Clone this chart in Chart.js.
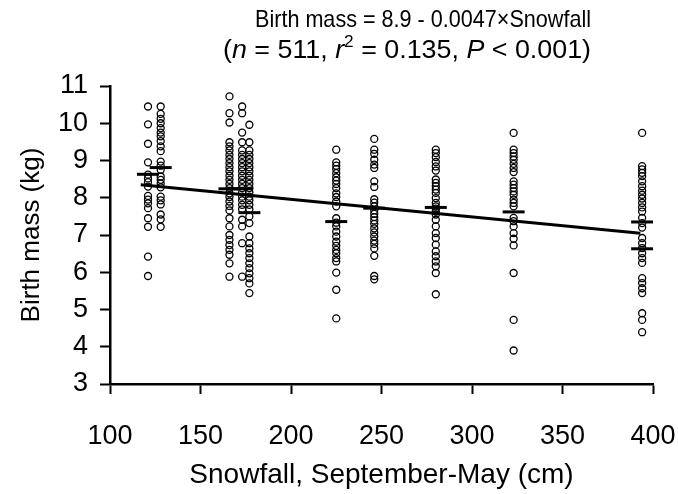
<!DOCTYPE html>
<html>
<head>
<meta charset="utf-8">
<script src="https://cdn.jsdelivr.net/npm/chart.js@4.4.1/dist/chart.umd.min.js"></script>
<style>
  html, body { margin: 0; padding: 0; background: #ffffff; }
  #wrap { width: 678px; height: 494px; position: relative; }
</style>
</head>
<body>
<div id="wrap"><canvas id="chart"></canvas></div>
<script>
// Snowfall (cm) of each group of births
const snowfallGroups = [121, 128, 166, 173, 177, 225, 246, 280, 323, 394];

// Birth mass (kg) of each calf, per snowfall group
const mass121 = [10.45, 9.97, 9.45, 8.95, 8.62, 8.52, 8.42, 8.30, 8.05, 7.95, 7.85, 7.72, 7.45, 7.22, 6.42, 5.90];
const mass128 = [10.45, 10.25, 10.12, 10.0, 9.87, 9.75, 9.65, 9.52, 9.38, 9.25, 8.97, 8.86, 8.75, 8.57, 8.48, 8.38, 8.28, 8.03, 7.93, 7.82, 7.55, 7.42, 7.22];
const mass166 = [10.72, 10.27, 10.02, 9.49, 9.38, 9.27, 9.15, 9.04, 8.93, 8.82, 8.71, 8.59, 8.48, 8.37, 8.26, 8.12, 8.02, 7.90, 7.78, 7.66, 7.45, 7.23, 7.00, 6.87, 6.73, 6.60, 6.47, 6.24, 5.88];
const mass173 = [10.45, 10.27, 9.75, 9.49, 9.27, 9.15, 9.04, 8.93, 8.82, 8.71, 8.59, 8.48, 8.37, 8.26, 8.14, 8.03, 7.93, 7.81, 7.69, 7.41, 7.23, 6.78, 5.88];
const mass177 = [9.96, 9.49, 9.27, 9.15, 9.04, 8.93, 8.82, 8.71, 8.59, 8.48, 8.37, 8.26, 8.14, 8.03, 7.93, 7.81, 7.69, 7.50, 7.32, 6.96, 6.78, 6.64, 6.51, 6.38, 6.24, 6.11, 5.97, 5.84, 5.70, 5.44];
const mass225 = [9.29, 8.95, 8.86, 8.77, 8.66, 8.55, 8.46, 8.37, 8.26, 8.12, 8.02, 7.90, 7.77, 7.45, 7.33, 7.23, 7.09, 6.96, 6.82, 6.71, 6.60, 6.51, 6.38, 6.29, 5.99, 5.53, 4.76];
const mass246 = [9.58, 9.29, 9.18, 9.02, 8.89, 8.80, 8.44, 8.29, 7.96, 7.87, 7.77, 7.66, 7.57, 7.48, 7.39, 7.30, 7.18, 7.07, 6.96, 6.85, 6.76, 6.64, 6.44, 5.90, 5.81];
const mass280 = [9.29, 9.20, 9.09, 8.96, 8.84, 8.73, 8.49, 8.40, 8.31, 8.22, 8.13, 7.99, 7.86, 7.77, 7.71, 7.63, 7.55, 7.41, 7.23, 7.05, 6.92, 6.74, 6.56, 6.43, 6.29, 6.16, 5.98, 5.41];
const mass323 = [9.74, 9.29, 9.20, 9.11, 9.02, 8.91, 8.80, 8.69, 8.44, 8.35, 8.26, 8.17, 8.08, 7.95, 7.86, 7.77, 7.46, 7.37, 7.23, 7.05, 6.90, 6.72, 5.98, 4.72, 3.90];
const mass394 = [9.74, 8.85, 8.76, 8.67, 8.58, 8.44, 8.31, 8.19, 8.08, 7.98, 7.86, 7.74, 7.63, 7.46, 7.32, 7.20, 6.92, 6.78, 6.65, 6.51, 6.38, 6.25, 5.84, 5.71, 5.57, 5.44, 4.90, 4.72, 4.39];
const massByGroup = [mass121, mass128, mass166, mass173, mass177, mass225, mass246, mass280, mass323, mass394];

// Yearly means (horizontal dashes)
const meanX = [121, 128, 166, 173, 177, 225, 246, 280, 323, 394, 394];
const meanY = [8.63, 8.81, 8.24, 8.24, 7.60, 7.36, 7.72, 7.74, 7.62, 7.35, 6.63];

// Regression line end points
const fitX = [117, 393];
const fitY = [8.35, 7.05];

// Axis ticks
const xTicks = [100, 150, 200, 250, 300, 350, 400];
const yTicks = [3, 4, 5, 6, 7, 8, 9, 10, 11];

const FONT = '"Liberation Sans", Arial, Helvetica, sans-serif';

const points = [];
snowfallGroups.forEach((x, i) => {
    massByGroup[i].forEach(y => points.push({ x: x, y: y }));
});
const means = meanX.map((x, i) => ({ x: x, y: meanY[i] }));
const fit = fitX.map((x, i) => ({ x: x, y: fitY[i] }));

// Title with italic letters and a superscript
const titleLines = [
    { cx: 423, y: 27, w: 336, size: 24, parts: [{ t: 'Birth mass = 8.9 - 0.0047×Snowfall' }] },
    { cx: 407, y: 58, w: 368, size: 25, parts: [
        { t: '(' }, { t: 'n', it: true }, { t: ' = 511, ' }, { t: 'r', it: true },
        { t: '2', sup: true }, { t: ' = 0.135, ' }, { t: 'P', it: true }, { t: ' < 0.001)' }
    ] }
];

const richTitle = {
    id: 'richTitle',
    afterDraw(chart) {
        const ctx = chart.ctx;
        ctx.save();
        ctx.fillStyle = '#000';
        ctx.textBaseline = 'alphabetic';
        titleLines.forEach(line => {
            const fontOf = p => (p.it ? 'italic ' : '') + (p.sup ? '16px ' : line.size + 'px ') + FONT;
            let total = 0;
            line.parts.forEach(p => { ctx.font = fontOf(p); total += ctx.measureText(p.t).width; });
            const w = line.w || total;
            const k = w / total;
            ctx.save();
            ctx.translate(line.cx - w / 2, 0);
            ctx.scale(k, 1);
            let x = 0;
            line.parts.forEach(p => {
                ctx.font = fontOf(p);
                ctx.fillText(p.t, x, p.sup ? line.y - 11 : line.y);
                x += ctx.measureText(p.t).width;
            });
            ctx.restore();
        });
        ctx.restore();
    }
};

new Chart(document.getElementById('chart'), {
    type: 'scatter',
    data: {
        datasets: [
            {
                label: 'Means',
                data: means,
                pointStyle: 'line',
                pointRadius: 11,
                borderColor: '#000',
                borderWidth: 3,
                order: 0
            },
            {
                type: 'line',
                label: 'Fit',
                data: fit,
                borderColor: '#000',
                borderWidth: 3,
                pointRadius: 0,
                fill: false,
                tension: 0,
                order: 1
            },
            {
                label: 'Birth mass',
                data: points,
                pointStyle: 'circle',
                pointRadius: 3.5,
                borderWidth: 1.3,
                borderColor: '#000',
                backgroundColor: 'rgba(0,0,0,0)',
                order: 2
            }
        ]
    },
    options: {
        responsive: true,
        maintainAspectRatio: false,
        animation: false,
        layout: { padding: { top: 86, right: 25, bottom: 0, left: 0 } },
        plugins: {
            legend: { display: false },
            tooltip: { enabled: false }
        },
        scales: {
            x: {
                type: 'linear',
                min: 100,
                max: 400,
                afterBuildTicks: scale => { scale.ticks = xTicks.map(v => ({ value: v })); },
                afterFit: scale => {
                    scale.height = 110;
                    scale.paddingLeft = 0;
                    scale.paddingRight = 0;
                },
                border: { display: true, color: '#000', width: 2.5 },
                grid: { drawOnChartArea: false, drawTicks: true, tickLength: 10, tickColor: '#000', tickWidth: 2 },
                ticks: { color: '#000', padding: 26, maxRotation: 0, font: { family: FONT, size: 27 } },
                title: {
                    display: true,
                    text: 'Snowfall, September-May (cm)',
                    color: '#000',
                    padding: { top: 0, bottom: 2 },
                    font: { family: FONT, size: 28 }
                }
            },
            y: {
                type: 'linear',
                min: 3,
                max: 11,
                afterBuildTicks: scale => { scale.ticks = yTicks.map(v => ({ value: v })); },
                afterFit: scale => {
                    scale.width = 110;
                    scale.paddingTop = 0;
                    scale.paddingBottom = 0;
                },
                border: { display: true, color: '#000', width: 2.5 },
                grid: { drawOnChartArea: false, drawTicks: true, tickLength: 10, tickColor: '#000', tickWidth: 2 },
                ticks: { color: '#000', padding: 12, font: { family: FONT, size: 27 } },
                title: {
                    display: true,
                    text: 'Birth mass (kg)',
                    color: '#000',
                    padding: { top: 16, bottom: 0 },
                    font: { family: FONT, size: 26 }
                }
            }
        }
    },
    plugins: [richTitle]
});
</script>
</body>
</html>
